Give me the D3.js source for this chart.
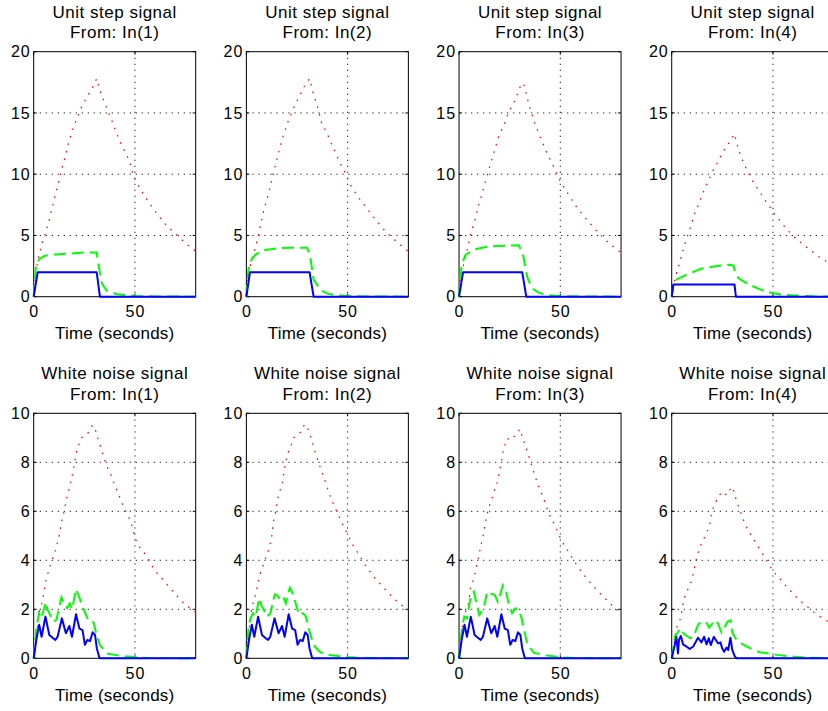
<!DOCTYPE html>
<html>
<head>
<meta charset="utf-8">
<script src="https://cdn.jsdelivr.net/npm/d3@7/dist/d3.min.js"></script>
<style>
  body { margin: 0; background: #fff; }
  text { font-family: "Liberation Sans", Arial, Helvetica, sans-serif; fill: #000; }
</style>
</head>
<body>
<svg id="chart" width="828" height="711"></svg>
<script>
// ---- axis ticks and labels ----
const timeTicks = [0, 50];
const stepTicks = [0, 5, 10, 15, 20];
const noiseTicks = [0, 2, 4, 6, 8, 10];
const inputNames = ["In(1)", "In(2)", "In(3)", "In(4)"];
const rowTitles = ["Unit step signal", "White noise signal"];
const xLabel = "Time (seconds)";

// ---- unit step responses: [time, value] ----
const stepBlue1 = [[0,0],[2,2],[31.1,2],[32.7,0],[80,0]];
const stepGreen1 = [[0,0],[1,2.3],[2,2.9],[3.1,3.1],[5,3.3],[7.2,3.4],[11,3.45],[16.3,3.5],[24.5,3.6],[31.1,3.6],[31.9,2.7],[33.6,1.1],[36,0.5],[41,0.2],[50,0.06],[60,0.02],[80,0]];
const stepRed1 = [[0,0],[1,2.0],[2,2.9],[3.1,3.7],[4.3,4.5],[5.9,5.2],[7.7,6.3],[10.2,8.0],[12.2,9.3],[13.8,10.4],[15.5,11.4],[17.1,12.5],[19.2,13.6],[20.9,14.4],[23.4,15.4],[26.2,16.3],[27.8,16.7],[29.4,17.2],[31.1,17.8],[32.1,17.2],[33.2,16.6],[34.9,15.9],[36.3,15.3],[37.7,14.7],[39.3,14.1],[40.6,13.5],[42.3,12.8],[43.9,12.2],[45.9,11.6],[47.5,10.9],[49.2,9.9],[50.8,9.3],[52.8,8.8],[54.6,8.2],[56.9,7.7],[59.4,7.1],[61.8,6.6],[64,6.1],[66.9,5.6],[69.4,5.2],[72.2,4.8],[74.7,4.4],[78.5,3.9],[80,3.7]];

const stepBlue2 = [[0,0],[1.8,2],[31.2,2],[33.2,0],[80,0]];
const stepGreen2 = [[0,0],[1,2.2],[2,2.9],[4.3,3.4],[7.6,3.75],[11,3.85],[15,3.95],[22,4.0],[30,4.0],[31.5,3.3],[33.2,1.4],[36.5,0.55],[40,0.25],[43,0.15],[50,0.06],[60,0.02],[80,0]];
const stepRed2 = [[0,0],[1,1.8],[2.5,3.0],[4.3,3.9],[5.9,5.0],[8.4,6.9],[10.9,8.4],[13.4,10.1],[15.8,11.7],[18.3,13.2],[20.8,14.4],[23.8,15.6],[26.6,16.5],[29,17.3],[31.2,17.8],[33,16.6],[35,15.6],[37.3,14.1],[39.4,13.5],[42.5,12.3],[45.5,11.2],[49.1,10.0],[50.8,9.3],[54.9,8.2],[59.5,7.2],[64.2,6.2],[69.4,5.2],[75.5,4.3],[80,3.7]];

const stepBlue3 = [[0,0],[2,2],[31.2,2],[33.2,0],[80,0]];
const stepGreen3 = [[0,0],[1,2.2],[1.5,2.7],[3.1,3.4],[7.3,3.85],[14.7,4.1],[22,4.15],[29.5,4.2],[31.5,3.5],[33.7,1.6],[36,0.7],[39,0.35],[42.7,0.15],[50,0.06],[60,0.02],[80,0]];
const stepRed3 = [[0,0],[1,1.7],[2.3,2.7],[4,3.8],[5.6,5.0],[8.1,6.4],[9.7,7.5],[11.4,8.4],[13,9.4],[16,11.1],[18,12.2],[19.6,13.1],[22.1,14.0],[24.3,15.0],[26.7,15.7],[28.7,16.5],[30.8,17.4],[31.8,17.4],[32.8,16.8],[34.8,15.5],[37.3,14.2],[39.9,13.1],[43.2,11.8],[46.5,10.7],[49.8,9.5],[53.8,8.4],[58.1,7.3],[63,6.3],[68.3,5.3],[73.8,4.4],[77.1,3.95],[80,3.6]];

const stepBlue4 = [[0,0],[0.8,1],[31,1],[31.7,0],[80,0]];
const stepGreen4 = [[0,0],[1,1.2],[1.7,1.35],[7.4,1.8],[14.8,2.3],[22.2,2.5],[28,2.6],[30.5,2.55],[31.3,2.0],[33,1.5],[38,1.0],[43.6,0.6],[49.4,0.3],[55,0.15],[63,0.08],[70,0.03],[80,0]];
const stepRed4 = [[0,0],[1.3,1.2],[2.5,2.0],[3.6,2.6],[4.6,3.2],[5.8,3.9],[6.9,4.5],[8.1,5.1],[9.1,5.6],[10.4,6.3],[11.6,6.9],[13.2,7.5],[14.5,8.1],[16,8.7],[17.7,9.3],[19,9.8],[21,10.5],[22.8,11.0],[24.8,11.7],[26.8,12.2],[28.9,12.7],[31,13.3],[31.9,12.7],[33,12.0],[34.3,11.4],[35.8,10.8],[37.6,10.2],[39.3,9.6],[41.3,9.1],[43.4,8.6],[45.5,8.0],[47.8,7.5],[50,6.9],[52.5,6.4],[54.9,5.9],[57.4,5.4],[60.2,4.9],[63.2,4.5],[66.1,4.1],[69.3,3.7],[72.2,3.3],[76.2,2.9],[80,2.6]];

// ---- white noise responses: [time, value] ----
const noiseBlue = [[0,0],[1.4,0.8],[2.7,1.37],[3.9,0.88],[5.8,1.7],[7.7,0.95],[9.6,0.82],[10.7,0.75],[11.8,0.88],[13.9,1.63],[15.9,1.02],[17.6,1.32],[18.9,0.88],[20.9,1.8],[22.6,1.21],[24.1,1.15],[25.3,0.55],[26.5,0.75],[27.8,0.7],[29.1,1.06],[30.3,0.95],[31.2,0.4],[32.5,0],[80,0]];
const noiseGreen1 = [[0,0],[1.3,1.2],[2.6,1.84],[3.8,1.63],[6,2.3],[6.8,2.0],[9.6,1.5],[11.2,1.57],[13.7,2.48],[15.3,2.18],[16.5,2.05],[17.8,2.24],[19,2.0],[20.8,2.82],[22.4,2.52],[24.1,2.1],[25.2,1.9],[26.9,1.57],[28.5,1.57],[29.7,1.43],[31,0.95],[32.7,0.54],[36,0.2],[40,0.14],[45,0.08],[50,0.05],[55,0.02],[80,0]];
const noiseRed1 = [[0,0],[1.5,1.0],[2.6,1.84],[4.2,2.3],[5.3,2.79],[5.8,3.13],[6.8,3.4],[7.9,3.74],[9.2,4.03],[10.4,4.33],[11.5,4.63],[12.4,4.94],[13.7,5.55],[14.9,5.96],[16.2,6.5],[17.3,6.84],[18.3,7.18],[19.5,7.66],[20.3,8.03],[20.8,8.34],[22,8.65],[23.1,8.95],[24.8,9.09],[26.6,9.18],[27.7,9.29],[29,9.52],[31,9.22],[31.8,8.92],[33.2,8.6],[34.3,8.26],[35.6,7.96],[37.1,7.65],[38.8,7.37],[40.1,7.03],[41.8,6.73],[43.4,6.35],[44.7,6.14],[46.7,5.8],[48.3,5.46],[50,4.94],[51.3,4.64],[53.6,4.41],[55.8,4.16],[57.8,3.86],[60.2,3.55],[62.7,3.32],[65.2,3.07],[67.7,2.83],[70.1,2.6],[73.1,2.33],[75.9,2.12],[79.4,1.92],[80,1.88]];

const noiseGreen2 = [[0,0],[1,1.2],[2,1.63],[3.3,1.84],[4.6,1.7],[6.3,2.45],[7.4,2.18],[10.2,1.7],[11.9,1.84],[14,2.61],[15.3,2.56],[16.8,2.38],[18.2,2.5],[19.5,2.24],[20.6,2.65],[21.5,2.88],[23.1,2.61],[24.8,2.11],[26.1,1.77],[28,1.84],[29.4,1.7],[30.5,1.29],[32.2,0.82],[33.8,0.48],[36,0.28],[38.8,0.16],[42,0.12],[50,0.05],[56,0.02],[80,0]];
const noiseRed2 = [[0,0],[1,0.8],[2,1.6],[2.6,2.0],[4,2.45],[5.1,2.79],[5.9,3.13],[6.9,3.47],[8.1,3.74],[9.2,4.01],[10.6,4.33],[11.7,4.65],[12.5,4.97],[13.4,5.6],[14.5,5.99],[15.5,6.53],[16.7,6.87],[17.8,7.18],[18.6,7.62],[19.5,8.05],[20.5,8.37],[22.1,8.71],[23.3,9.0],[24.9,9.09],[26.2,9.18],[27.4,9.28],[28.7,9.55],[31,9.28],[32,8.98],[33.2,8.64],[34.3,8.3],[35.6,8.03],[36.8,7.71],[38.1,7.41],[39.3,7.14],[40.6,6.8],[41.9,6.5],[43.6,6.19],[45.2,5.88],[46.9,5.58],[48.5,5.31],[50.2,5.03],[51.8,4.73],[53.8,4.46],[56,4.18],[57.9,3.9],[60.1,3.65],[62.5,3.37],[65,3.13],[67.8,2.88],[70.3,2.65],[73.3,2.41],[76.1,2.2],[79.4,2.0],[80,1.97]];

const noiseGreen3 = [[0,0],[1.5,1.22],[2.6,1.7],[4,1.63],[5.9,2.58],[7.3,2.72],[10,1.77],[12.2,2.04],[13.9,2.72],[15.5,2.65],[17.7,2.58],[19.1,2.31],[20.5,2.65],[21.6,2.97],[23.3,2.69],[24.6,2.18],[26.2,1.84],[27.9,2.04],[29.5,1.97],[30.9,1.63],[32,1.2],[33.7,0.58],[37,0.22],[42.7,0.12],[51,0.04],[58,0.01],[80,0]];
const noiseRed3 = [[0,0],[1,0.8],[1.8,1.43],[2.8,1.77],[3.5,2.0],[4.5,2.2],[5.1,2.48],[5.6,2.86],[6.8,3.13],[8.1,3.54],[9.4,4.01],[10.9,4.65],[11.9,4.97],[12.7,5.44],[13.9,5.88],[15,6.22],[16.3,6.53],[17.5,6.87],[18.8,7.18],[20.1,7.69],[21,8.03],[21.6,8.37],[22.6,8.71],[23.8,8.98],[25.4,8.91],[27.1,9.05],[28.7,9.14],[29.9,9.36],[31.2,9.07],[32.5,8.73],[33.7,8.44],[35,8.1],[36.1,7.78],[37.3,7.51],[38.6,7.17],[39.9,6.9],[41.4,6.6],[42.7,6.29],[44,5.99],[45.7,5.67],[47.4,5.44],[49,5.1],[50.5,4.83],[52.6,4.53],[54.7,4.26],[56.7,3.99],[58.9,3.71],[61.2,3.44],[63.7,3.2],[66.2,2.95],[68.8,2.72],[71.6,2.48],[74.6,2.24],[77.4,2.01],[80,1.85]];

const noiseBlue4 = [[0,0],[1.5,0.54],[2.3,0.88],[3.1,0.2],[3.6,0.75],[4.5,0.91],[5.6,0.57],[7.3,0.48],[8.9,0.38],[10.6,0.48],[13,0.84],[14.7,0.65],[16,0.88],[17.2,0.57],[18.3,0.82],[19.3,0.54],[20.8,0.88],[21.8,0.75],[22.9,0.61],[24.1,0.65],[24.9,0.41],[25.9,0.27],[27.1,0.44],[27.9,0.34],[29,0.84],[29.9,0.34],[31.2,0.07],[32,0],[80,0]];
const noiseGreen4 = [[0,0],[1.6,0.9],[3,1.05],[4.1,1.22],[6,1.0],[9.1,0.82],[10.6,0.85],[13.2,1.4],[15.7,1.5],[17.2,1.45],[18.5,1.25],[21.5,1.56],[22.9,1.41],[24.6,1.05],[25.4,1.15],[27.6,1.5],[29,1.55],[29.9,1.05],[32.2,0.72],[34.5,0.6],[37.2,0.48],[41.9,0.28],[43.7,0.25],[52,0.14],[60,0.07],[66,0.03],[80,0]];
const noiseRed4 = [[0,0],[1.3,0.7],[2.6,1.29],[4,1.54],[4.8,1.84],[5.3,2.1],[6.1,2.45],[7.6,2.75],[9.2,3.02],[10.2,3.3],[11,3.6],[11.9,3.97],[14,4.56],[15.6,4.83],[17,5.1],[18.6,5.37],[19.8,5.99],[21.5,6.33],[23.1,6.6],[24.8,6.8],[26.4,6.69],[28,6.69],[29.2,7.0],[31,6.78],[31.8,6.46],[33.3,6.12],[34.6,5.85],[36,5.51],[37.6,5.24],[39.6,4.97],[41.7,4.69],[43.7,4.42],[45.7,4.15],[47.8,3.88],[50,3.56],[52.5,3.33],[54.9,3.1],[57.4,2.86],[60.2,2.61],[63,2.38],[66,2.18],[68.9,1.97],[72.1,1.77],[75.9,1.56],[80,1.38]];

// ---- panel definitions ----
const panels = [
  { row: 0, col: 0, blue: stepBlue1, green: stepGreen1, red: stepRed1 },
  { row: 0, col: 1, blue: stepBlue2, green: stepGreen2, red: stepRed2 },
  { row: 0, col: 2, blue: stepBlue3, green: stepGreen3, red: stepRed3 },
  { row: 0, col: 3, blue: stepBlue4, green: stepGreen4, red: stepRed4 },
  { row: 1, col: 0, blue: noiseBlue, green: noiseGreen1, red: noiseRed1 },
  { row: 1, col: 1, blue: noiseBlue, green: noiseGreen2, red: noiseRed2 },
  { row: 1, col: 2, blue: noiseBlue, green: noiseGreen3, red: noiseRed3 },
  { row: 1, col: 3, blue: noiseBlue4, green: noiseGreen4, red: noiseRed4 }
];

// ---- layout ----
const plotLeft0 = 33.7, colStep = 212.67, plotW = 162, plotH = 245;
const rowTop = [51.7, 413.3];
const rowDomain = [[0, 20], [0, 10]];
const rowTicks = [stepTicks, noiseTicks];
const tickLen = 3;

const svg = d3.select("#chart");

panels.forEach(p => {
  const left = plotLeft0 + p.col * colStep;
  const top = rowTop[p.row];
  const x = d3.scaleLinear().domain([0, 80]).range([left, left + plotW]);
  const y = d3.scaleLinear().domain(rowDomain[p.row]).range([top + plotH, top]);
  const g = svg.append("g");
  const yt = rowTicks[p.row];

  // dotted grid
  const grid = g.append("g").attr("stroke", "#222").attr("stroke-width", 1)
    .attr("stroke-dasharray", "1.3,4.7").attr("fill", "none");
  yt.slice(1, -1).forEach(v => {
    grid.append("line").attr("x1", left).attr("x2", left + plotW)
      .attr("y1", y(v)).attr("y2", y(v));
  });
  timeTicks.filter(t => t > 0).forEach(t => {
    grid.append("line").attr("x1", x(t)).attr("x2", x(t))
      .attr("y1", top).attr("y2", top + plotH);
  });

  // box
  g.append("rect").attr("x", left).attr("y", top).attr("width", plotW).attr("height", plotH)
    .attr("fill", "none").attr("stroke", "#000").attr("stroke-width", 1);

  // inward ticks on all four sides
  const ticks = g.append("g").attr("stroke", "#000").attr("stroke-width", 1);
  yt.forEach(v => {
    ticks.append("line").attr("x1", left).attr("x2", left + tickLen).attr("y1", y(v)).attr("y2", y(v));
    ticks.append("line").attr("x1", left + plotW - tickLen).attr("x2", left + plotW).attr("y1", y(v)).attr("y2", y(v));
  });
  timeTicks.forEach(t => {
    ticks.append("line").attr("x1", x(t)).attr("x2", x(t)).attr("y1", top + plotH).attr("y2", top + plotH - tickLen);
    ticks.append("line").attr("x1", x(t)).attr("x2", x(t)).attr("y1", top).attr("y2", top + tickLen);
  });

  // tick labels
  yt.forEach(v => {
    g.append("text").attr("x", left - 3).attr("y", y(v)).attr("dy", "0.36em")
      .attr("text-anchor", "end").attr("font-size", 16).attr("letter-spacing", "1px").text(v);
  });
  timeTicks.forEach(t => {
    g.append("text").attr("x", x(t) + 0.5).attr("y", top + plotH + 20.5)
      .attr("text-anchor", "middle").attr("font-size", 16).attr("letter-spacing", "1px").text(t);
  });

  // axis label and titles
  const cx = left + plotW / 2;
  g.append("text").attr("x", cx).attr("y", top + plotH + 42.5)
    .attr("text-anchor", "middle").attr("font-size", 17).attr("letter-spacing", "0.2px").text(xLabel);
  g.append("text").attr("x", cx).attr("y", top - 34)
    .attr("text-anchor", "middle").attr("font-size", 17).attr("letter-spacing", "0.5px").text(rowTitles[p.row]);
  g.append("text").attr("x", cx).attr("y", top - 13.5)
    .attr("text-anchor", "middle").attr("font-size", 17).attr("letter-spacing", "0.5px").text("From: " + inputNames[p.col]);

  // response curves
  const line = d3.line().x(d => x(d[0])).y(d => y(d[1]));
  g.append("path").datum(p.red).attr("d", line).attr("fill", "none")
    .attr("stroke", "#ff0000").attr("stroke-width", 1.2).attr("stroke-dasharray", "1.6,6.2");
  g.append("path").datum(p.green).attr("d", line).attr("fill", "none")
    .attr("stroke", "#00ff00").attr("stroke-width", 2).attr("stroke-dasharray", "12,6");
  g.append("path").datum(p.blue).attr("d", line).attr("fill", "none")
    .attr("stroke", "#0000ff").attr("stroke-width", 2).attr("stroke-linejoin", "round");
});
</script>
</body>
</html>
